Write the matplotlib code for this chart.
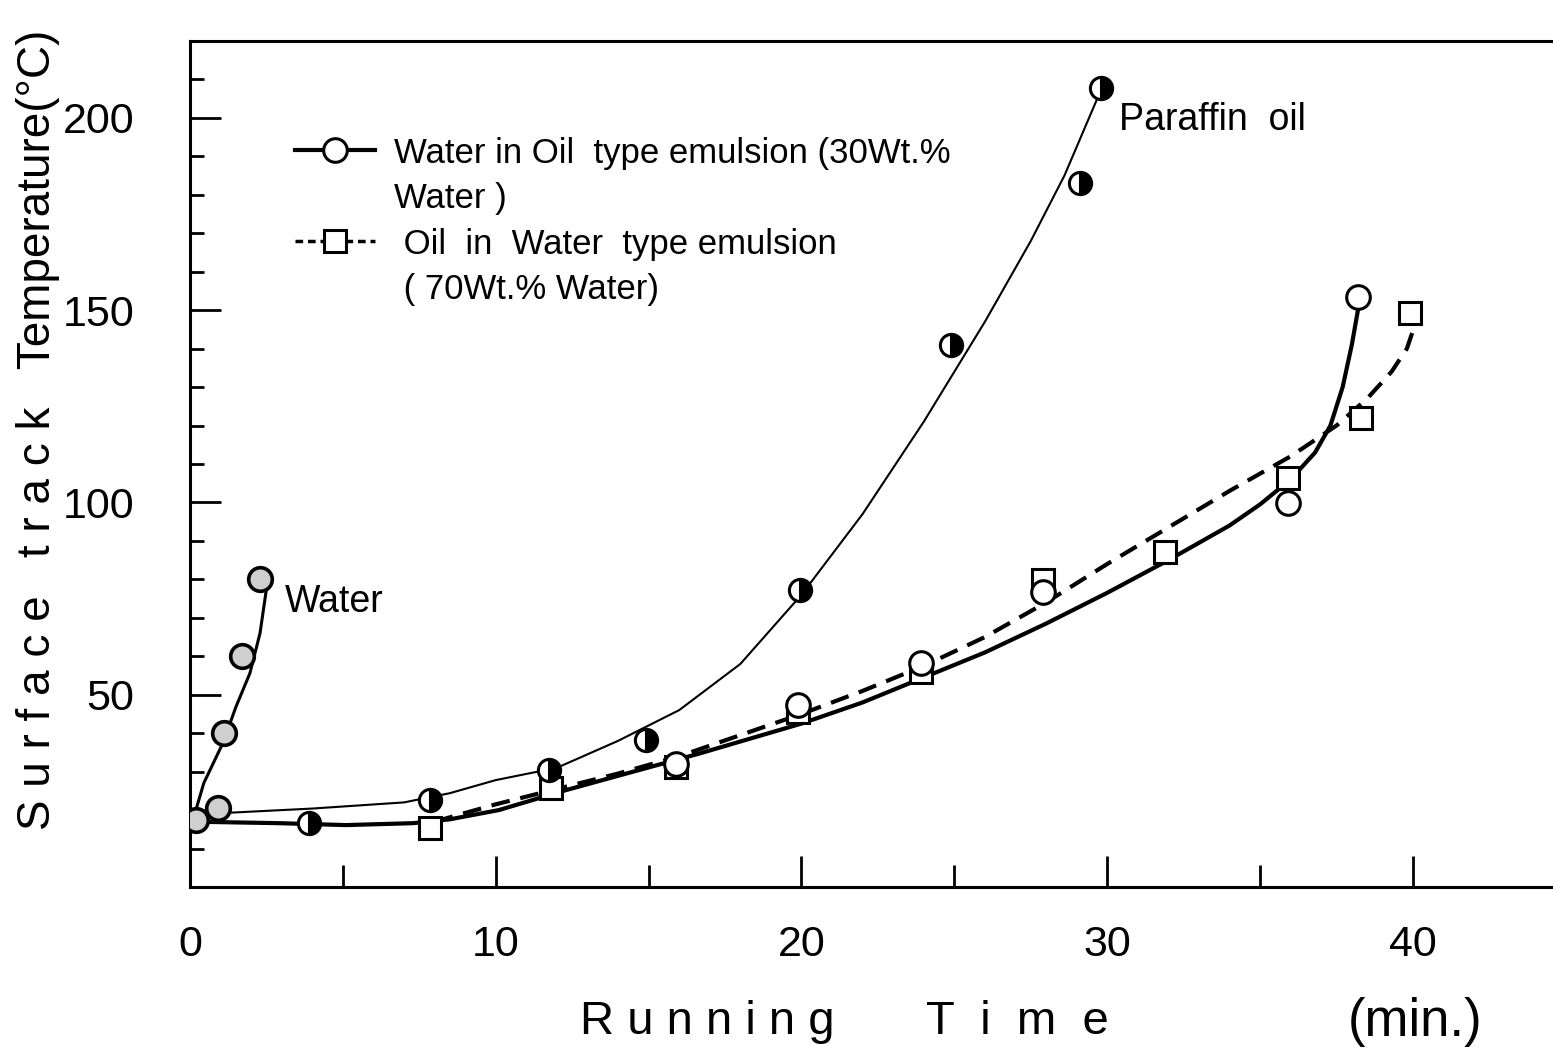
import matplotlib
matplotlib.use("Agg")
import matplotlib.pyplot as plt
from matplotlib.lines import Line2D
from matplotlib import font_manager

# narrowest installed sans we can find
names = {f.name for f in font_manager.fontManager.ttflist}
FONT = next((n for n in ["Liberation Sans Narrow", "Liberation Sans", "Roboto"] if n in names),
            "DejaVu Sans")
plt.rcParams["font.family"] = [FONT, "DejaVu Sans"]

# measured points (min, degC)
water_t = [0.2, 0.9, 1.1, 1.7, 2.3]
water_T = [17.5, 20.5, 40, 60, 80]
paraffin_t = [3.9, 7.85, 11.75, 14.9, 19.95, 24.9, 29.1, 29.8]
paraffin_T = [16.6, 22.6, 30.4, 38.2, 77.2, 141, 183, 207.7]
wo_t = [15.9, 19.9, 23.9, 27.9, 35.9, 38.2]
wo_T = [32.0, 47.3, 58.2, 76.7, 99.8, 153.4]
ow_t = [7.85, 11.8, 15.9, 19.9, 23.9, 27.9, 31.9, 35.9, 38.3, 39.9]
ow_T = [15.3, 25.7, 31.2, 45.5, 55.9, 79.8, 87.1, 106.3, 121.9, 149.2]

# hand-drawn trend curves
water_fit_t = [0.1, 0.45, 1.08, 1.5, 1.96, 2.29, 2.5]
water_fit_T = [17.5, 27, 37.5, 46.8, 55.6, 66, 77.5]
paraffin_fit_t = [1.0, 4.0, 7.0, 8.5, 10.0, 12.0, 14.0, 16.0, 18.0, 20.0, 22.0, 24.0,
                  26.0, 27.5, 28.6, 29.7]
paraffin_fit_T = [19.2, 20.4, 22.0, 24.4, 27.8, 31.0, 38.0, 46.0, 58.0, 76.0, 97.0, 121.0,
                  147.0, 168.0, 185.0, 205.5]
wo_fit_t = [0.0, 2.9, 5.1, 7.3, 8.5, 10.1, 12.3, 14.5, 16.7, 18.5, 20.0, 22.0, 24.0, 26.0,
            28.0, 30.0, 32.0, 34.0, 35.0, 36.0, 36.8, 37.3, 37.7, 38.0, 38.2]
wo_fit_T = [17.0, 16.6, 16.1, 16.6, 17.6, 20.0, 25.2, 30.0, 34.8, 39.0, 42.5, 48.0, 54.5,
            61.0, 68.5, 76.5, 85.0, 94.0, 99.5, 106.0, 113.0, 120.0, 130.0, 141.0, 150.0]
ow_fit_t = [8.0, 10.0, 12.0, 14.0, 16.0, 18.0, 20.0, 22.0, 24.0, 26.0, 28.0, 30.0, 32.0,
            34.0, 36.0, 37.5, 38.5, 39.3, 39.8, 40.1]
ow_fit_T = [17.0, 21.5, 25.5, 29.5, 34.0, 39.5, 45.0, 51.0, 57.5, 65.0, 74.0, 84.0, 93.5,
            103.0, 112.0, 120.0, 127.0, 134.0, 140.0, 147.0]

fig = plt.figure(figsize=(15.53, 10.48), dpi=100)
ax = fig.add_axes([190 / 1553, 1 - 887 / 1048, 1363 / 1553, 846 / 1048])

# curves
ax.plot(water_fit_t, water_fit_T, color="black", lw=2.2, zorder=2)
ax.plot(paraffin_fit_t, paraffin_fit_T, color="black", lw=1.5, zorder=2)
ax.plot(wo_fit_t, wo_fit_T, color="black", lw=3.0, solid_capstyle="round",
        solid_joinstyle="round", zorder=2)
ax.plot(ow_fit_t, ow_fit_T, color="black", lw=3.0, linestyle=(0, (4.5, 2.6)), zorder=2)

# markers
MS = 17
ax.plot(water_t, water_T, "o", ms=MS, mfc="#cfcfcf", mec="black", mew=2.6, zorder=4)
ax.plot(ow_t, ow_T, "s", ms=MS - 1, mfc="white", mec="black", mew=2.2, zorder=4)
ax.plot(wo_t, wo_T, "o", ms=MS, mfc="white", mec="black", mew=2.2, zorder=5)
ax.plot(paraffin_t, paraffin_T, "o", ms=MS - 1, fillstyle="right", mfc="black",
        markerfacecoloralt="white", mec="black", mew=2.2, zorder=5)

ax.text(3.1, 74, "Water", fontsize=27, ha="left", va="center")
ax.text(30.4, 199.5, "Paraffin  oil", fontsize=27, ha="left", va="center")

# legend
h_wo = Line2D([], [], color="black", lw=3, marker="o", ms=MS, mfc="white",
              mec="black", mew=2.2)
h_ow = Line2D([], [], color="black", lw=2.5, linestyle=(0, (2.2, 1.4)), marker="s",
              ms=MS - 1, mfc="white", mec="black", mew=2.2)
blank = Line2D([], [], color="none")
ax.legend([h_wo, blank, h_ow, blank],
          ["Water in Oil  type emulsion (30Wt.%", "Water )",
           " Oil  in  Water  type emulsion", " ( 70Wt.% Water)"],
          loc="upper left", bbox_to_anchor=(0.077, 0.887), frameon=False,
          fontsize=25, handlelength=2.3, handletextpad=0.55, labelspacing=0.36,
          borderpad=0, borderaxespad=0)

ax.set_xlim(0, 44.58)
ax.set_ylim(0, 220)

for side in ("top", "left", "bottom"):
    ax.spines[side].set_linewidth(2.2)
ax.spines["right"].set_visible(False)

ax.set_xticks([0, 10, 20, 30, 40])
ax.set_xticks([5, 15, 25, 35], minor=True)
ax.set_yticks([50, 100, 150, 200])
ax.set_yticks([v for v in range(10, 220, 10) if v % 50], minor=True)
ax.tick_params(axis="both", which="both", direction="in", width=2, labelsize=31)
ax.tick_params(axis="x", which="major", length=22, pad=27)
ax.tick_params(axis="x", which="minor", length=16)
ax.tick_params(axis="y", which="major", length=22, pad=40)
ax.tick_params(axis="y", which="minor", length=10)

fig.text(38 / 1553, 1 - 430 / 1048,
         "S u r f a c e   t r a c k   Temperature(°C)",
         rotation=90, fontsize=33, ha="center", va="center")
fig.text(707 / 1553, 1 - 1022 / 1048, "R u n n i n g",
         fontsize=34, ha="center", va="center")
fig.text(1017 / 1553, 1 - 1022 / 1048, "T  i  m  e",
         fontsize=34, ha="center", va="center")
fig.text(1415 / 1553, 1 - 1022 / 1048, "(min.)",
         fontsize=38, ha="center", va="center")

fig.savefig("out.png", dpi=100)
